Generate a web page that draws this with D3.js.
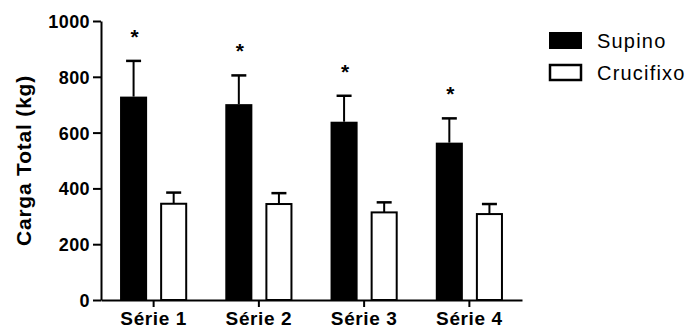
<!DOCTYPE html>
<html>
<head>
<meta charset="utf-8">
<script src="https://cdn.jsdelivr.net/npm/d3@7"></script>
<style>
  body { margin: 0; background: #fff; }
  text { font-family: "Liberation Sans", Arial, sans-serif; fill: #000; }
</style>
</head>
<body>
<div id="chart"></div>
<script>
// dados
const categories = ["Série 1", "Série 2", "Série 3", "Série 4"];
const series = ["Supino", "Crucifixo"];
const supino = [729, 702, 639, 564];
const supinoSD = [128, 103, 93, 87];
const crucifixo = [345, 344, 314, 308];
const crucifixoSD = [40, 39, 36, 36];
const significant = [true, true, true, true];
const yTicks = [0, 200, 400, 600, 800, 1000];

const W = 691, H = 329;
const mLeft = 101, mRight = 522, mTop = 21, mBottom = 300;

const rows = categories.map((c, i) => ({
  cat: c,
  vals: [
    { s: "Supino", v: supino[i], sd: supinoSD[i] },
    { s: "Crucifixo", v: crucifixo[i], sd: crucifixoSD[i] }
  ],
  star: significant[i]
}));

const svg = d3.select("#chart").append("svg")
    .attr("width", W)
    .attr("height", H);

const x0 = d3.scaleBand()
    .domain(categories)
    .range([mLeft, mRight])
    .padding(0);

const x1 = d3.scaleBand()
    .domain(series)
    .range([0, x0.bandwidth()])
    .paddingInner(0.325)
    .paddingOuter(0.475);

const y = d3.scaleLinear()
    .domain([0, 1000])
    .range([mBottom, mTop]);

// eixo y
const yAxis = svg.append("g")
    .attr("transform", `translate(${mLeft},0)`)
    .call(d3.axisLeft(y).tickValues(yTicks).tickFormat(d3.format("d"))
      .tickSize(8).tickSizeOuter(0).tickPadding(3));
yAxis.select(".domain").attr("stroke-width", 2);
yAxis.selectAll(".tick line").attr("stroke-width", 2);
yAxis.selectAll(".tick text")
    .attr("font-size", 18)
    .attr("font-weight", "bold")
    .attr("letter-spacing", "0.4px")
    .attr("font-family", null)
    .attr("dy", "0.36em");

// eixo x
const xAxis = svg.append("g")
    .attr("transform", `translate(0,${mBottom})`)
    .call(d3.axisBottom(x0).tickSize(7).tickSizeOuter(0).tickPadding(5));
xAxis.select(".domain").attr("stroke-width", 2);
xAxis.selectAll(".tick line").attr("stroke-width", 2);
xAxis.selectAll(".tick text")
    .attr("font-size", 19)
    .attr("font-weight", "bold")
    .attr("letter-spacing", "0.6px")
    .attr("font-family", null);

// titulo eixo y
svg.append("text")
    .attr("transform", `translate(31,${(mTop + mBottom) / 2}) rotate(-90)`)
    .attr("text-anchor", "middle")
    .attr("font-size", 21)
    .attr("font-weight", "bold")
    .attr("letter-spacing", "0.8px")
    .text("Carga Total (kg)");

const groups = svg.selectAll(".grp")
    .data(rows)
    .enter().append("g")
    .attr("class", "grp")
    .attr("transform", d => `translate(${x0(d.cat)},0)`);

// barras de erro (so para cima)
const capW = 15;
groups.selectAll(".err")
    .data(d => d.vals)
    .enter().append("g")
    .attr("class", "err")
    .each(function(d) {
      const g = d3.select(this);
      const cx = x1(d.s) + x1.bandwidth() / 2;
      g.append("line")
          .attr("x1", cx).attr("x2", cx)
          .attr("y1", y(d.v)).attr("y2", y(d.v + d.sd))
          .attr("stroke", "#000").attr("stroke-width", 2);
      g.append("line")
          .attr("x1", cx - capW / 2).attr("x2", cx + capW / 2)
          .attr("y1", y(d.v + d.sd)).attr("y2", y(d.v + d.sd))
          .attr("stroke", "#000").attr("stroke-width", 2.5);
    });

// barras
groups.selectAll("rect")
    .data(d => d.vals)
    .enter().append("rect")
    .attr("x", d => d.s === "Supino" ? x1(d.s) : x1(d.s) + 1)
    .attr("width", d => d.s === "Supino" ? x1.bandwidth() : x1.bandwidth() - 2)
    .attr("y", d => y(d.v))
    .attr("height", d => mBottom - y(d.v))
    .attr("fill", d => d.s === "Supino" ? "#000" : "#fff")
    .attr("stroke", "#000")
    .attr("stroke-width", d => d.s === "Supino" ? 0 : 2);

// asteriscos
groups.filter(d => d.star).append("text")
    .attr("x", x1("Supino") + x1.bandwidth() / 2 + 1)
    .attr("y", d => y(d.vals[0].v + d.vals[0].sd) - 17)
    .attr("text-anchor", "middle")
    .attr("font-size", 21)
    .attr("font-weight", "bold")
    .text("*");

// legenda
const legend = svg.append("g").attr("transform", "translate(549,32)");
const leg = legend.selectAll("g")
    .data(series)
    .enter().append("g")
    .attr("transform", (d, i) => `translate(0,${i * 32})`);
leg.append("rect")
    .attr("x", d => d === "Supino" ? 0 : 1)
    .attr("y", d => d === "Supino" ? 0 : 1)
    .attr("width", d => d === "Supino" ? 33 : 31)
    .attr("height", d => d === "Supino" ? 17 : 15)
    .attr("fill", d => d === "Supino" ? "#000" : "#fff")
    .attr("stroke", "#000")
    .attr("stroke-width", d => d === "Supino" ? 0 : 2.5);
leg.append("text")
    .attr("x", 48)
    .attr("y", 16)
    .attr("font-size", 20)
    .attr("letter-spacing", "1.2px")
    .text(d => d);
</script>
</body>
</html>
